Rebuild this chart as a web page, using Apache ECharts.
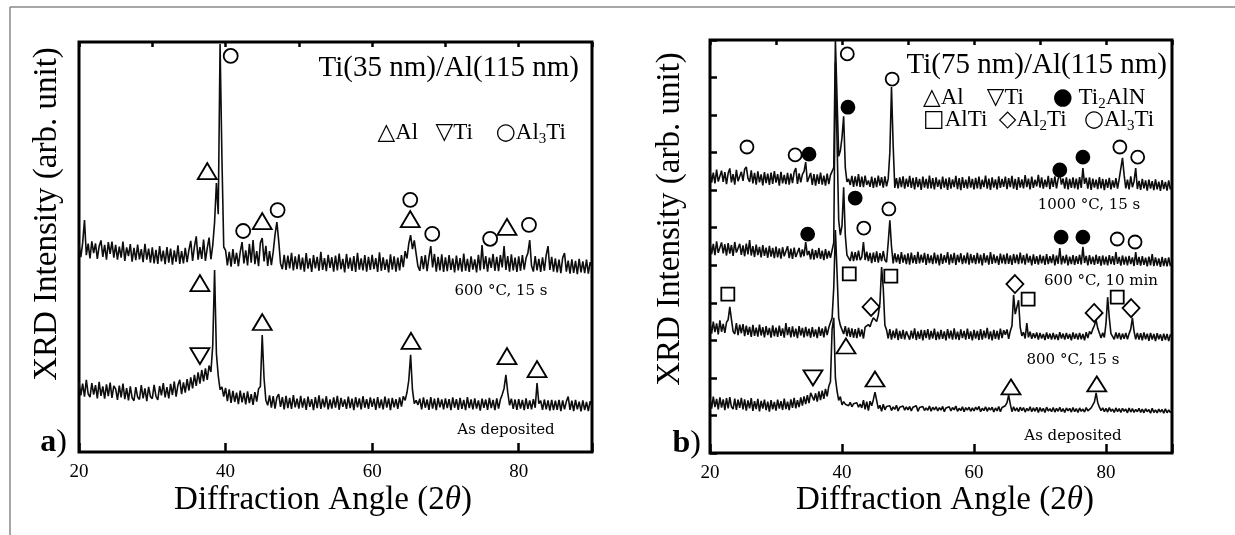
<!DOCTYPE html>
<html><head><meta charset="utf-8">
<script src="https://cdn.jsdelivr.net/npm/echarts@6/dist/echarts.min.js"></script>
<style>html,body{margin:0;padding:0;background:#fff}#c{width:1235px;height:535px}</style>
</head><body><div id="c"></div>
<script>
// ---- sampling of the scans (2θ from 20 to 90, step 0.25; one row = 5°) ----
const START = 20, STEP = 0.25;
const xTickLabels = [20, 40, 60, 80];

// Panel a: Ti(35 nm)/Al(115 nm)
const a600 = [
50.6,47.5,51.0,56.6,48.0,50.8,47.2,51.4,48.5,50.9,47.1,50.2,51.6,47.6,50.5,46.9,51.2,48.3,51.3,47.4,
50.5,46.9,50.1,47.4,51.3,46.6,49.9,47.8,50.7,46.4,49.8,46.8,50.6,47.0,49.5,46.3,50.8,46.9,49.6,46.2,
49.9,46.0,49.3,45.9,50.2,46.5,49.1,45.8,50.0,46.2,49.6,45.7,49.2,46.4,50.4,45.9,49.0,46.0,49.8,46.3,
49.3,51.5,46.6,50.1,52.6,46.9,50.0,47.1,51.8,46.6,49.7,52.3,47.0,50.4,56.0,65.6,58.0,99.5,72.0,50.0,
49.2,45.5,48.8,45.2,49.5,45.9,48.6,45.3,48.8,51.2,46.0,49.2,45.5,50.8,46.2,51.7,45.8,49.0,45.3,51.0,
52.2,46.5,50.3,45.4,49.0,45.6,48.8,53.0,56.1,51.5,46.0,44.6,48.1,44.4,47.9,44.8,48.6,44.3,47.7,44.6,
48.2,44.5,47.4,44.0,48.5,44.7,47.2,43.9,48.0,44.8,47.6,44.2,48.8,44.4,47.3,44.1,48.1,44.9,47.5,44.0,
47.9,44.3,48.4,44.6,47.1,43.8,48.3,44.7,47.4,44.2,47.8,43.9,48.6,44.5,47.2,44.3,48.0,44.0,47.6,44.4,
48.1,44.6,47.3,43.9,48.7,44.2,47.5,44.4,47.0,43.8,48.2,44.5,47.7,44.0,47.4,44.3,48.0,45.1,49.0,47.2,
50.8,52.9,49.5,51.6,48.4,45.3,44.2,47.8,44.6,48.0,44.1,47.5,50.2,45.0,48.3,44.0,47.6,44.3,48.2,43.9,
47.5,44.1,48.0,44.4,47.2,43.8,47.9,44.3,47.3,44.0,48.4,44.2,47.1,43.9,47.7,44.5,47.0,43.8,48.1,44.3,
50.5,44.6,47.8,44.0,47.4,44.9,48.3,44.2,47.6,44.1,48.0,45.0,50.2,44.4,47.8,44.0,48.2,44.3,47.4,43.9,
47.7,44.2,48.0,44.5,47.3,48.5,51.7,45.4,44.0,47.8,44.3,47.1,43.9,47.5,44.2,48.0,50.2,44.4,47.6,44.0,
47.2,43.8,46.9,43.6,47.4,48.5,44.0,46.7,43.5,47.0,43.7,46.6,43.4,47.1,43.8,46.5,43.6,46.9,43.5,46.3,
45.0];
const a600Peaks = [[39.35, 99.5]];

const aDep = [
17.0,13.8,16.7,13.5,17.6,14.2,13.4,16.8,14.0,16.3,13.1,17.1,13.7,16.0,13.0,16.5,13.6,16.9,13.2,16.1,
15.4,12.7,16.2,13.3,16.7,12.9,15.6,12.6,16.0,13.2,12.5,15.8,13.4,12.8,16.3,13.1,15.5,12.4,15.9,13.5,
13.0,16.4,13.6,12.7,16.1,13.8,16.8,13.3,15.8,13.1,16.6,13.9,17.2,13.5,16.3,17.6,14.1,17.0,14.5,17.8,
15.0,18.2,15.5,18.8,16.1,19.4,16.7,20.0,17.2,20.4,17.6,21.1,19.5,26.0,44.4,24.0,18.6,15.2,15.9,13.5,
15.6,12.4,15.3,12.0,14.9,12.2,14.5,11.7,15.0,12.1,14.4,11.6,14.8,11.9,14.1,11.5,14.6,12.3,15.4,16.0,
28.5,18.0,12.6,11.4,13.8,10.8,13.6,10.6,13.3,14.1,11.0,13.4,10.4,13.7,10.7,13.2,10.5,13.9,10.9,13.0,
10.6,13.7,10.8,13.1,10.3,13.5,11.0,12.9,10.2,13.4,10.7,13.8,10.5,13.0,10.9,13.6,10.4,12.8,10.6,13.3,
10.8,13.7,10.3,13.2,11.0,12.8,10.5,13.5,10.7,13.0,10.2,13.4,10.9,13.1,10.4,13.6,10.8,12.9,10.5,13.3,
11.0,13.0,10.3,13.4,10.7,12.8,10.4,13.5,10.8,13.1,10.2,13.2,10.9,12.9,10.5,13.3,11.1,13.6,12.6,14.5,
17.5,23.7,15.2,11.8,12.6,11.5,13.0,10.4,13.3,10.8,12.8,10.3,13.4,10.6,13.0,10.2,13.2,10.9,12.8,10.4,
13.1,10.7,12.9,10.2,13.3,10.8,12.9,10.3,13.2,10.5,12.7,10.2,13.4,10.7,12.8,10.4,13.1,10.6,12.6,10.1,
13.0,10.8,12.8,10.3,13.2,10.7,12.7,10.2,13.1,10.6,12.8,14.0,15.5,18.8,14.6,11.4,13.0,10.5,12.8,10.3,
12.9,10.6,12.7,10.2,13.1,10.5,12.6,10.4,12.9,10.8,16.8,11.8,12.5,10.3,12.8,10.4,12.6,10.1,12.7,10.2,
12.5,10.3,12.7,10.0,12.6,10.4,12.3,13.5,10.3,12.5,10.0,12.7,10.4,12.3,9.9,12.6,10.2,12.2,10.0,12.4,
11.1];
const aDepPeaks = [];

// Panel b: Ti(75 nm)/Al(115 nm)
const b1000 = [
75.1,72.0,74.7,71.8,75.5,72.3,71.9,75.2,72.2,74.8,71.6,74.5,75.8,72.1,74.3,71.5,75.4,72.4,71.9,74.9,
72.5,75.6,76.2,73.2,72.2,75.3,71.8,74.6,71.5,75.0,72.1,74.2,71.3,74.8,71.9,74.4,71.4,74.7,71.7,75.1,
72.0,74.3,71.2,74.9,71.8,74.1,71.6,74.6,71.5,74.4,71.9,74.8,75.9,71.7,74.5,72.1,74.2,75.0,77.5,72.2,
71.8,74.6,71.4,74.3,71.2,74.2,71.7,74.7,71.5,73.9,71.2,74.4,71.6,74.0,74.5,76.0,110,110,79.0,80.5,
84.0,89.7,76.0,72.2,73.0,71.4,73.8,70.9,73.7,71.1,74.3,70.9,73.6,70.8,73.9,71.4,72.6,70.9,73.6,70.6,
73.3,70.8,73.9,71.2,73.5,70.7,73.7,71.0,73.0,80.0,97.5,82.0,70.6,73.2,70.5,73.4,70.8,73.7,70.4,73.1,
70.9,73.8,70.6,73.3,70.2,73.5,70.8,73.0,70.1,73.6,70.7,73.0,70.4,73.9,70.5,73.2,70.2,73.4,70.9,72.8,
70.3,73.6,70.7,73.1,70.1,73.4,70.4,72.9,70.8,73.8,70.3,73.2,70.0,73.5,70.6,72.8,70.4,73.7,70.7,73.0,
70.2,73.3,70.5,73.6,70.3,72.8,70.8,73.9,70.4,73.1,70.1,73.4,70.7,72.9,70.2,73.7,70.6,73.0,70.9,73.6,
70.3,73.2,70.8,73.8,70.4,73.0,70.1,73.5,70.7,72.9,70.5,74.0,70.8,73.1,70.2,73.6,70.6,72.8,71.0,74.1,
70.7,73.4,70.4,72.8,70.8,73.8,70.3,73.2,70.9,73.7,70.5,73.0,74.5,71.5,73.1,70.4,73.4,70.2,73.0,70.6,
73.4,70.5,73.1,70.2,73.5,70.6,75.9,71.7,73.3,70.4,73.4,70.1,73.1,70.7,72.8,70.3,73.5,70.5,73.0,70.0,
72.9,70.6,73.3,70.2,72.6,70.7,73.2,70.4,73.0,73.5,78.6,74.0,70.5,72.8,70.2,73.7,70.8,72.4,75.9,70.3,
72.5,70.1,73.0,70.5,72.6,69.9,72.8,70.4,72.4,70.0,72.9,70.2,72.3,69.8,72.7,70.3,72.2,69.9,72.6,70.2,
71.4];
const b1000Peaks = [[39.15, 110]];

const b600 = [
56.0,53.0,55.7,52.7,56.4,53.3,52.8,56.1,53.2,55.6,52.6,55.9,53.1,55.4,52.5,56.2,53.4,52.9,55.7,52.8,
55.3,52.4,55.8,52.9,56.7,52.6,55.1,52.2,55.5,52.7,54.9,52.1,55.4,52.5,54.7,52.0,55.2,52.3,54.6,51.9,
55.0,52.1,54.5,51.8,54.8,52.4,51.9,55.1,51.9,54.4,51.7,54.7,52.2,51.8,54.6,52.1,54.2,52.4,56.2,52.7,
53.8,51.6,54.4,51.5,54.0,51.9,54.6,51.7,53.9,51.4,54.3,51.8,53.8,52.0,54.0,56.0,104,104,62.0,58.0,
60.5,70.8,58.0,52.7,53.1,51.2,53.6,51.1,53.5,51.3,53.9,51.4,52.2,56.2,51.4,53.6,51.1,53.3,50.6,53.4,
50.9,53.7,50.7,53.2,51.1,53.8,51.4,50.8,56.0,62.0,55.0,50.5,53.2,50.8,52.9,50.4,53.5,50.7,52.8,50.3,
53.2,50.2,53.4,50.6,52.7,50.4,53.6,50.5,52.8,50.7,53.3,50.1,53.0,50.6,52.6,50.3,53.4,50.5,52.8,50.0,
53.1,50.4,52.7,50.7,53.5,50.2,52.9,50.6,53.3,50.1,52.8,50.8,53.2,50.3,52.6,50.5,53.4,50.2,53.0,50.6,
52.7,50.3,53.3,50.5,52.8,50.0,53.2,50.7,52.6,50.2,53.5,50.4,52.9,50.6,52.5,50.1,53.1,50.5,52.8,50.3,
53.2,50.4,52.6,50.1,53.0,50.6,52.8,50.3,53.4,50.5,52.7,50.2,53.1,50.7,52.5,50.0,52.9,50.4,52.4,50.2,
52.8,50.5,52.5,50.1,53.0,50.3,52.4,50.6,52.9,50.0,52.6,50.4,54.6,50.2,52.5,50.5,52.8,50.0,52.3,50.3,
52.7,50.1,52.4,50.4,52.8,50.2,54.9,50.6,52.5,50.0,52.7,50.3,52.3,50.1,52.8,50.4,52.4,49.9,52.6,50.2,
52.3,50.0,52.7,50.3,52.4,50.1,53.5,50.4,52.2,49.9,52.6,50.2,52.3,50.0,52.5,50.3,52.1,49.8,53.5,50.1,
52.2,49.9,52.4,50.1,52.0,49.7,52.3,50.0,53.0,49.8,52.1,49.9,51.8,49.6,52.2,49.8,51.9,49.7,52.1,49.8,
51.0];
const b600Peaks = [];

const b800 = [
34.7,31.8,35.0,32.2,34.5,31.6,35.3,32.3,34.4,32.0,34.8,35.5,38.9,35.6,32.4,31.7,34.6,31.4,34.2,31.9,
34.3,31.1,33.9,31.5,33.6,30.9,34.1,31.2,33.4,31.0,34.2,31.3,33.5,30.8,33.8,31.4,33.3,30.7,34.0,31.1,
33.4,30.9,33.9,31.2,33.2,30.7,34.6,31.4,33.5,30.8,33.7,31.0,33.1,30.6,33.8,31.3,33.3,30.8,33.6,31.1,
33.1,30.7,33.5,31.0,32.9,30.6,33.6,31.2,33.2,30.8,33.7,31.4,33.4,33.5,36.0,44.0,59.4,48.0,36.0,34.0,
34.0,31.7,33.8,31.1,33.4,30.9,33.2,30.7,33.0,30.6,33.3,31.0,32.9,30.5,33.5,33.0,34.2,33.6,35.0,36.0,
36.2,35.0,36.8,40.0,49.5,44.0,34.0,32.8,30.5,33.0,30.2,32.6,30.6,33.1,30.1,32.5,30.4,32.8,30.3,32.4,
32.9,30.2,32.6,30.5,33.2,30.1,32.4,30.4,32.8,30.0,32.7,30.6,33.0,30.2,32.5,30.5,33.1,30.1,32.3,30.3,
32.8,30.4,32.4,30.0,33.0,30.5,32.6,30.2,33.2,30.3,32.3,30.1,32.9,30.6,32.5,30.2,33.1,30.4,32.4,30.0,
32.8,30.5,32.5,30.1,33.0,30.2,32.6,30.6,33.3,30.3,32.4,30.0,32.8,30.4,32.5,30.2,33.1,30.6,32.7,31.5,
32.9,30.4,32.5,33.8,42.1,37.0,36.5,40.7,33.5,31.2,32.2,30.5,34.6,30.8,32.3,30.4,31.9,30.6,32.1,30.2,
32.0,30.5,31.7,30.1,32.1,30.4,31.8,30.2,32.0,30.3,31.6,30.1,32.2,30.5,31.8,30.2,32.0,30.4,31.7,30.0,
32.1,30.4,31.8,30.2,32.0,30.3,31.7,30.0,32.2,30.6,32.4,31.7,33.0,34.0,35.4,33.2,32.8,30.6,32.0,30.8,
34.5,41.5,36.0,31.8,32.3,30.3,32.1,30.5,32.0,30.2,31.8,30.4,32.0,30.3,31.8,33.0,36.0,32.4,30.3,32.0,
30.2,31.9,30.0,32.1,30.3,31.8,29.9,32.0,30.2,31.7,29.8,31.9,30.3,31.6,29.9,31.8,30.1,31.7,29.8,31.6,
30.9];
const b800Peaks = [];

const bDep = [
14.7,11.8,15.0,12.2,14.4,11.6,14.8,12.1,14.3,11.4,14.6,11.9,14.9,12.3,11.7,14.5,11.5,14.2,12.0,14.7,
11.6,14.3,11.3,14.0,11.9,14.6,11.2,13.8,11.7,14.4,11.1,13.9,11.8,14.2,11.4,13.7,11.0,14.1,11.6,13.6,
11.3,14.2,11.8,13.8,11.5,14.5,11.7,13.7,11.4,14.3,12.0,14.7,11.9,14.1,12.2,14.8,12.6,15.1,13.0,15.4,
13.3,16.0,16.2,14.0,15.9,13.7,16.4,14.1,16.6,14.4,17.1,15.1,17.8,19.0,33.0,36.0,20.0,16.5,14.0,15.0,
12.8,13.7,13.0,13.3,12.6,13.5,12.3,13.1,12.7,13.4,12.2,13.0,12.0,14.1,11.6,13.7,11.3,13.8,12.6,14.2,
16.2,14.0,11.8,12.7,11.1,13.0,11.5,12.4,11.9,12.6,11.3,12.3,11.6,12.7,11.2,12.2,11.8,12.5,11.4,12.3,
11.5,12.4,11.2,12.2,11.7,12.6,11.1,12.1,11.6,12.4,11.3,12.0,11.4,12.5,11.1,12.2,11.5,12.3,11.2,12.1,
11.4,12.4,11.0,12.0,11.6,12.3,11.2,12.1,11.5,12.5,11.1,11.9,11.3,12.3,11.0,12.1,11.4,12.2,11.1,12.0,
11.2,12.2,11.5,12.4,11.0,11.9,11.3,12.3,11.1,12.1,11.4,12.2,10.9,12.0,11.2,12.4,11.0,12.1,12.2,12.6,
13.4,15.4,13.0,11.0,12.3,11.2,12.0,11.0,12.2,11.3,12.1,10.9,11.9,11.2,12.3,11.0,12.0,11.1,12.2,10.8,
12.1,11.1,11.9,10.8,12.2,11.2,11.8,11.0,12.1,10.9,11.9,11.1,12.2,11.0,11.8,10.8,12.0,11.2,11.9,10.9,
12.1,11.0,11.8,10.8,12.0,11.1,11.7,10.9,12.1,11.2,11.7,12.0,12.8,13.6,16.0,13.4,12.2,11.3,12.0,11.0,
11.9,10.9,12.1,11.1,11.7,10.8,12.0,11.0,11.8,10.8,11.9,11.1,11.7,10.7,12.0,10.9,11.8,10.8,11.6,11.0,
11.9,10.8,11.7,10.7,11.8,11.0,11.6,10.6,11.9,10.8,11.5,10.7,11.7,10.9,11.6,10.6,11.8,10.7,11.5,10.8,
11.3];
const bDepPeaks = [];

// ---- peak identification marks [2θ, intensity] ----
const aAl    = [[37.5,68.5],[45.0,56.3],[65.2,56.8],[78.4,54.9],[36.5,41.2],[45.0,31.7],[65.3,27.1],[78.4,23.4],[82.5,20.2]];
const aTi    = [[36.5,23.4]];
const aAl3Ti = [[40.7,96.6],[42.4,53.9],[47.1,59.0],[65.2,61.5],[68.2,53.2],[76.1,52.0],[81.4,55.4]];

const bAl     = [[40.6,28.5],[45.0,19.7],[65.6,17.6],[78.6,18.4]];
const bTi     = [[35.6,20.0]];
const bTi2AlN = [[35.0,79.6],[40.9,92.1],[73.0,75.4],[76.5,78.8],[34.8,58.3],[42.0,67.9],[73.2,57.5],[76.5,57.5]];
const bAlTi   = [[22.7,42.3],[41.1,47.7],[47.4,47.1],[68.2,41.0],[81.7,41.5]];
const bAl2Ti  = [[44.4,38.9],[66.2,45.0],[78.2,37.3],[83.8,38.6]];
const bAl3Ti  = [[25.6,81.5],[32.9,79.4],[40.8,106.3],[47.6,99.6],[82.1,81.5],[84.8,78.8],[43.3,59.9],[47.1,65.0],[81.7,57.0],[84.4,56.2]];

// ---- build ----
function scan(grid, peaks) {
  const pts = grid.map((v, i) => [START + i * STEP, v]);
  return pts.concat(peaks).sort((p, q) => p[0] - q[0]);
}
const SERIF = '"Liberation Serif","Times New Roman",serif';
const SMALL = '"DejaVu Serif",serif';
const SYM = '"DejaVu Sans",sans-serif';

function lineSeries(name, data, gi) {
  return { name, type: 'line', xAxisIndex: gi * 2, yAxisIndex: gi, data, showSymbol: false, symbol: 'none',
    sampling: 'none', lineStyle: { color: '#0d0d0d', width: 1.6 }, animation: false, z: 2, clip: true };
}
function markSeries(name, data, gi, symbol, size, opts) {
  opts = opts || {};
  return Object.assign({ name, type: 'scatter', xAxisIndex: gi * 2, yAxisIndex: gi, data, symbol, symbolSize: size,
    itemStyle: { color: opts.fill ? '#000' : 'rgba(255,255,255,0)', borderColor: '#000', borderWidth: 1.8, opacity: 1 },
    animation: false, z: 5, clip: false, silent: true }, opts.extra || {});
}
function xAxes(gi) {
  const fmt = v => xTickLabels.indexOf(v) >= 0 ? String(v) : '';
  return [
    { type: 'value', gridIndex: gi, min: 20, max: 90, interval: 20,
      axisLine: { show: false }, splitLine: { show: false },
      axisTick: { show: true, inside: true, length: 9, lineStyle: { color: '#000', width: 2.5 } },
      axisLabel: { formatter: fmt, fontFamily: SERIF, fontSize: 19, color: '#000', margin: 11 } },
    { type: 'value', gridIndex: gi, min: 20, max: 90, interval: 10,
      axisLine: { show: false }, splitLine: { show: false },
      axisTick: { show: true, inside: true, length: 5, lineStyle: { color: '#000', width: 2.5 } },
      axisLabel: { show: false } }
  ];
}
function txt(x, y, text, font, align, extra) {
  return Object.assign({ type: 'text', x, y, silent: true,
    style: { text, font, fill: '#000', align, verticalAlign: 'middle', textAlign: align, textVerticalAlign: 'middle' } }, extra || {});
}
function richTxt(x, y, text, rich, align, extra) {
  return Object.assign({ type: 'text', x, y, silent: true,
    style: { text, rich, fill: '#000', align, verticalAlign: 'middle', textAlign: align, textVerticalAlign: 'middle' } }, extra || {});
}
const legRich = {
  t: { fontFamily: SERIF, fontSize: 23, lineHeight: 28, fill: '#000' },
  s: { fontFamily: SYM, fontSize: 23, lineHeight: 28, fill: '#000' },
  sub: { fontFamily: SERIF, fontSize: 15, lineHeight: 14, verticalAlign: 'bottom', fill: '#000' }
};
const titleRich = {
  n: { fontFamily: SERIF, fontSize: 33, fill: '#000' },
  i: { fontFamily: SERIF, fontSize: 33, fontStyle: 'italic', fill: '#000' }
};
const letterRich = {
  b: { fontFamily: SERIF, fontSize: 32, fontWeight: 'bold', fill: '#000' },
  n: { fontFamily: SERIF, fontSize: 32, fill: '#000' }
};

const option = {
  backgroundColor: '#fff',
  animation: false,
  grid: [
    { left: 79, top: 42, width: 513, height: 410, show: true, borderColor: '#000', borderWidth: 3, backgroundColor: 'transparent' },
    { left: 710, top: 40, width: 462, height: 413, show: true, borderColor: '#000', borderWidth: 3, backgroundColor: 'transparent' }
  ],
  xAxis: xAxes(0).concat(xAxes(1)),
  yAxis: [
    { type: 'value', gridIndex: 0, min: 0, max: 100, axisLine: { show: false }, axisTick: { show: false },
      axisLabel: { show: false }, splitLine: { show: false } },
    { type: 'value', gridIndex: 1, min: 0, max: 110, interval: 10, axisLine: { show: false },
      axisTick: { show: true, inside: true, length: 7, lineStyle: { color: '#000', width: 2.5 } },
      axisLabel: { show: false }, splitLine: { show: false } }
  ],
  series: [
    lineSeries('600 °C, 15 s', scan(a600, a600Peaks), 0),
    lineSeries('As deposited (a)', scan(aDep, aDepPeaks), 0),
    lineSeries('1000 °C, 15 s', scan(b1000, b1000Peaks), 1),
    lineSeries('600 °C, 10 min', scan(b600, b600Peaks), 1),
    lineSeries('800 °C, 15 s', scan(b800, b800Peaks), 1),
    lineSeries('As deposited (b)', scan(bDep, bDepPeaks), 1),
    markSeries('Al (a)', aAl, 0, 'triangle', [19, 16]),
    markSeries('Ti (a)', aTi, 0, 'triangle', [19, 16], { extra: { symbolRotate: 180 } }),
    markSeries('Al3Ti (a)', aAl3Ti, 0, 'circle', 14),
    markSeries('Al (b)', bAl, 1, 'triangle', [19, 15]),
    markSeries('Ti (b)', bTi, 1, 'triangle', [19, 15], { extra: { symbolRotate: 180 } }),
    markSeries('Ti2AlN', bTi2AlN, 1, 'circle', 13, { fill: true }),
    markSeries('AlTi', bAlTi, 1, 'rect', 13),
    markSeries('Al2Ti', bAl2Ti, 1, 'diamond', [17, 18]),
    markSeries('Al3Ti (b)', bAl3Ti, 1, 'circle', 13)
  ],
  graphic: [
    { type: 'line', silent: true, shape: { x1: 10, y1: 7, x2: 1235, y2: 7 }, style: { stroke: '#888', lineWidth: 1.5 } },
    { type: 'line', silent: true, shape: { x1: 10, y1: 7, x2: 10, y2: 535 }, style: { stroke: '#888', lineWidth: 1.5 } },
    // axis titles
    richTxt(323, 500, '{n|Diffraction Angle (2}{i|θ}{n|)}', titleRich, 'center'),
    richTxt(945, 500, '{n|Diffraction Angle (2}{i|θ}{n|)}', titleRich, 'center'),
    txt(47, 214, 'XRD Intensity (arb. unit)', '33px ' + SERIF, 'center', { rotation: Math.PI / 2 }),
    txt(670, 219, 'XRD Intensity (arb. unit)', '33px ' + SERIF, 'center', { rotation: Math.PI / 2 }),
    // panel letters
    richTxt(67, 443, '{b|a}{n|)}', letterRich, 'right'),
    richTxt(701, 444, '{b|b}{n|)}', letterRich, 'right'),
    // sample titles
    txt(579, 68, 'Ti(35 nm)/Al(115 nm)', '29px ' + SERIF, 'right'),
    txt(1167, 65, 'Ti(75 nm)/Al(115 nm)', '29px ' + SERIF, 'right'),
    // phase keys
    richTxt(566, 133, '{s|△}{t|Al   }{s|▽}{t|Ti    }{s|○}{t|Al}{sub|3}{t|Ti}', legRich, 'right'),
    richTxt(923, 98, '{s|△}{t|Al    }{s|▽}{t|Ti     }{s|●}{t| Ti}{sub|2}{t|AlN}', legRich, 'left'),
    richTxt(923, 120, '{s|□}{t|AlTi  }{s|◇}{t|Al}{sub|2}{t|Ti   }{s|○}{t|Al}{sub|3}{t|Ti}', legRich, 'left'),
    // scan labels
    txt(501, 291, '600 °C, 15 s', '15px ' + SMALL, 'center'),
    txt(506, 430, 'As deposited', '15px ' + SMALL, 'center'),
    txt(1089, 205, '1000 °C, 15 s', '15px ' + SMALL, 'center'),
    txt(1101, 281, '600 °C, 10 min', '15px ' + SMALL, 'center'),
    txt(1073, 360, '800 °C, 15 s', '15px ' + SMALL, 'center'),
    txt(1073, 436, 'As deposited', '15px ' + SMALL, 'center')
  ]
};
const chart = echarts.init(document.getElementById('c'), null, { renderer: 'canvas' });
chart.setOption(option);
</script>
</body></html>
